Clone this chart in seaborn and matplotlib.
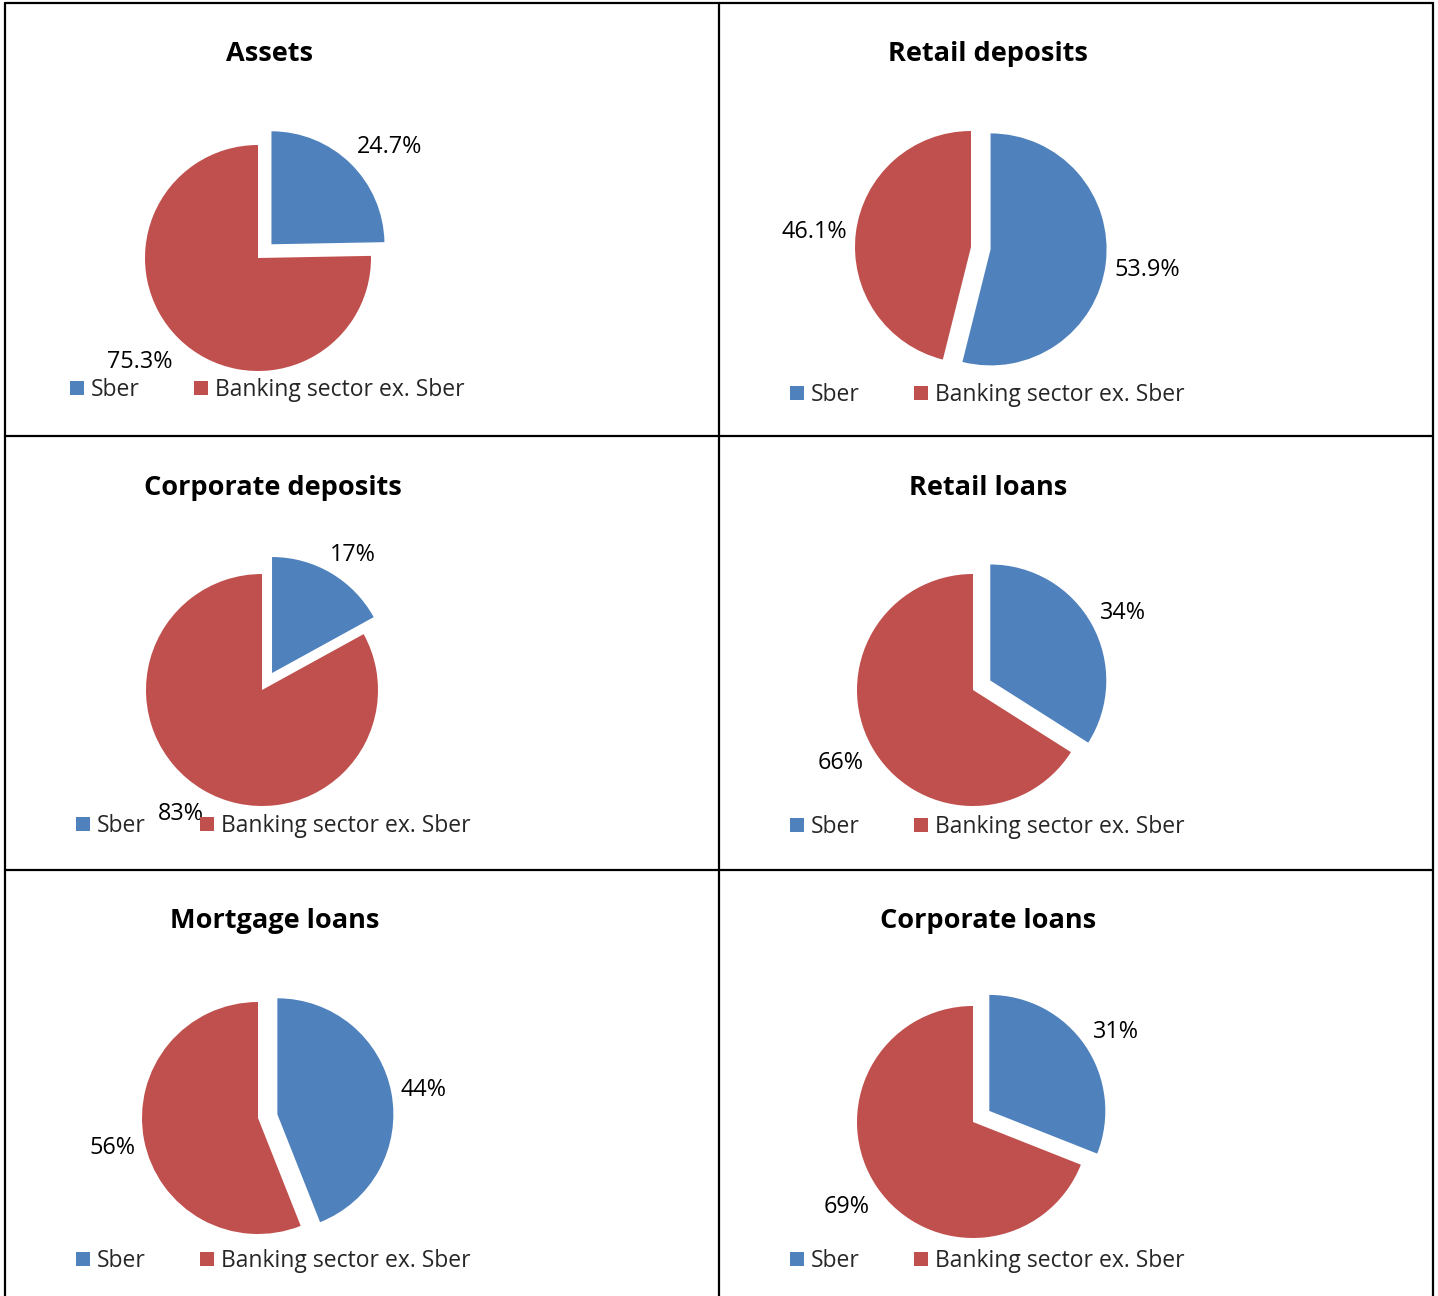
import matplotlib
matplotlib.use("Agg")
import matplotlib.pyplot as plt
import seaborn as sns
import numpy as np
from matplotlib.lines import Line2D

# ---------------- data ----------------
titles = ["Assets", "Retail deposits", "Corporate deposits",
          "Retail loans", "Mortgage loans", "Corporate loans"]
series_names = ["Sber", "Banking sector ex. Sber"]
sber_share = [24.7, 53.9, 17, 34, 44, 31]
rest_share = [75.3, 46.1, 83, 66, 56, 69]

# ---------------- style ----------------
sns.set_theme(style="white")
plt.rcParams['font.family'] = ['Open Sans', 'DejaVu Sans']
colors = sns.color_palette(["#4F81BD", "#C0504D"])

W, H = 1438, 1296
fig = plt.figure(figsize=(W / 100, H / 100), dpi=100)
fig.patch.set_facecolor("white")

# layout (pixels): pie centre, radius, title pos, legend pos
centers = [(258, 258), (971, 247), (262, 690), (973, 690), (258, 1118), (973, 1122)]
radii = [113, 116, 116, 116, 116, 116]
title_pos = [(270, 54), (988, 54), (273, 488), (988, 488), (275, 921), (988, 921)]
legend_pos = [(70, 390), (790, 395), (76, 826), (790, 827), (76, 1261), (790, 1261)]

label_fs = 16.8
legend_fs = 16.5
title_fs = 19.5
explode_amt = 0.17
ext = 1.9

renderer = fig.canvas.get_renderer()

for i in range(6):
    cx, cy = centers[i]
    r = radii[i]
    half = ext * r
    ax = fig.add_axes([(cx - half) / W, 1 - (cy + half) / H, 2 * half / W, 2 * half / H])
    vals = [sber_share[i], rest_share[i]]
    wedges, _ = ax.pie(vals, colors=colors, startangle=90, counterclock=False,
                       explode=[explode_amt, 0], radius=1,
                       wedgeprops=dict(linewidth=0))
    ax.set_xlim(-ext, ext)
    ax.set_ylim(-ext, ext)
    ax.set_aspect('equal')
    ax.axis('off')

    # "outside end" data labels: label box touches a point just outside the rim
    gap = 9 / r
    for w, v in zip(wedges, vals):
        th = np.deg2rad((w.theta1 + w.theta2) / 2)
        c = np.array(w.center)
        t = ax.text(0, 0, f"{v:g}%", fontsize=label_fs, color="black",
                    ha="center", va="center", clip_on=False)
        bb = t.get_window_extent(renderer=renderer)
        hw = bb.width / 2 / r
        hh = 0.57 * bb.height / r
        p = c + (1 + gap) * np.array([np.cos(th), np.sin(th)])
        fx = np.clip(1.5 * np.cos(th), -1, 1)
        fy = np.clip(1.5 * np.sin(th), -1, 1)
        t.set_position((p[0] + hw * fx, p[1] + hh * fy - 3 / r))

    lx, ly = legend_pos[i]
    ax.legend(wedges, series_names, loc="center left",
              bbox_to_anchor=(lx / W, 1 - ly / H), bbox_transform=fig.transFigure,
              ncol=2, frameon=False, fontsize=legend_fs,
              handlelength=0.62, handleheight=0.62, handletextpad=0.3,
              columnspacing=2.35, borderpad=0, borderaxespad=0)

    tx, ty = title_pos[i]
    fig.text(tx / W, 1 - ty / H, titles[i], fontsize=title_fs, fontweight="bold",
             ha="center", va="center", color="black")

# table borders
lw = 1.6
def hline(y, x0=5, x1=1433):
    fig.add_artist(Line2D([x0 / W, x1 / W], [1 - y / H, 1 - y / H], color="black", lw=lw))
def vline(x, y0=3, y1=1296):
    fig.add_artist(Line2D([x / W, x / W], [1 - y0 / H, 1 - y1 / H], color="black", lw=lw))

hline(3)
hline(436)
hline(870)
vline(5)
vline(719)
vline(1433)

fig.savefig("out.png", dpi=100, facecolor="white")
